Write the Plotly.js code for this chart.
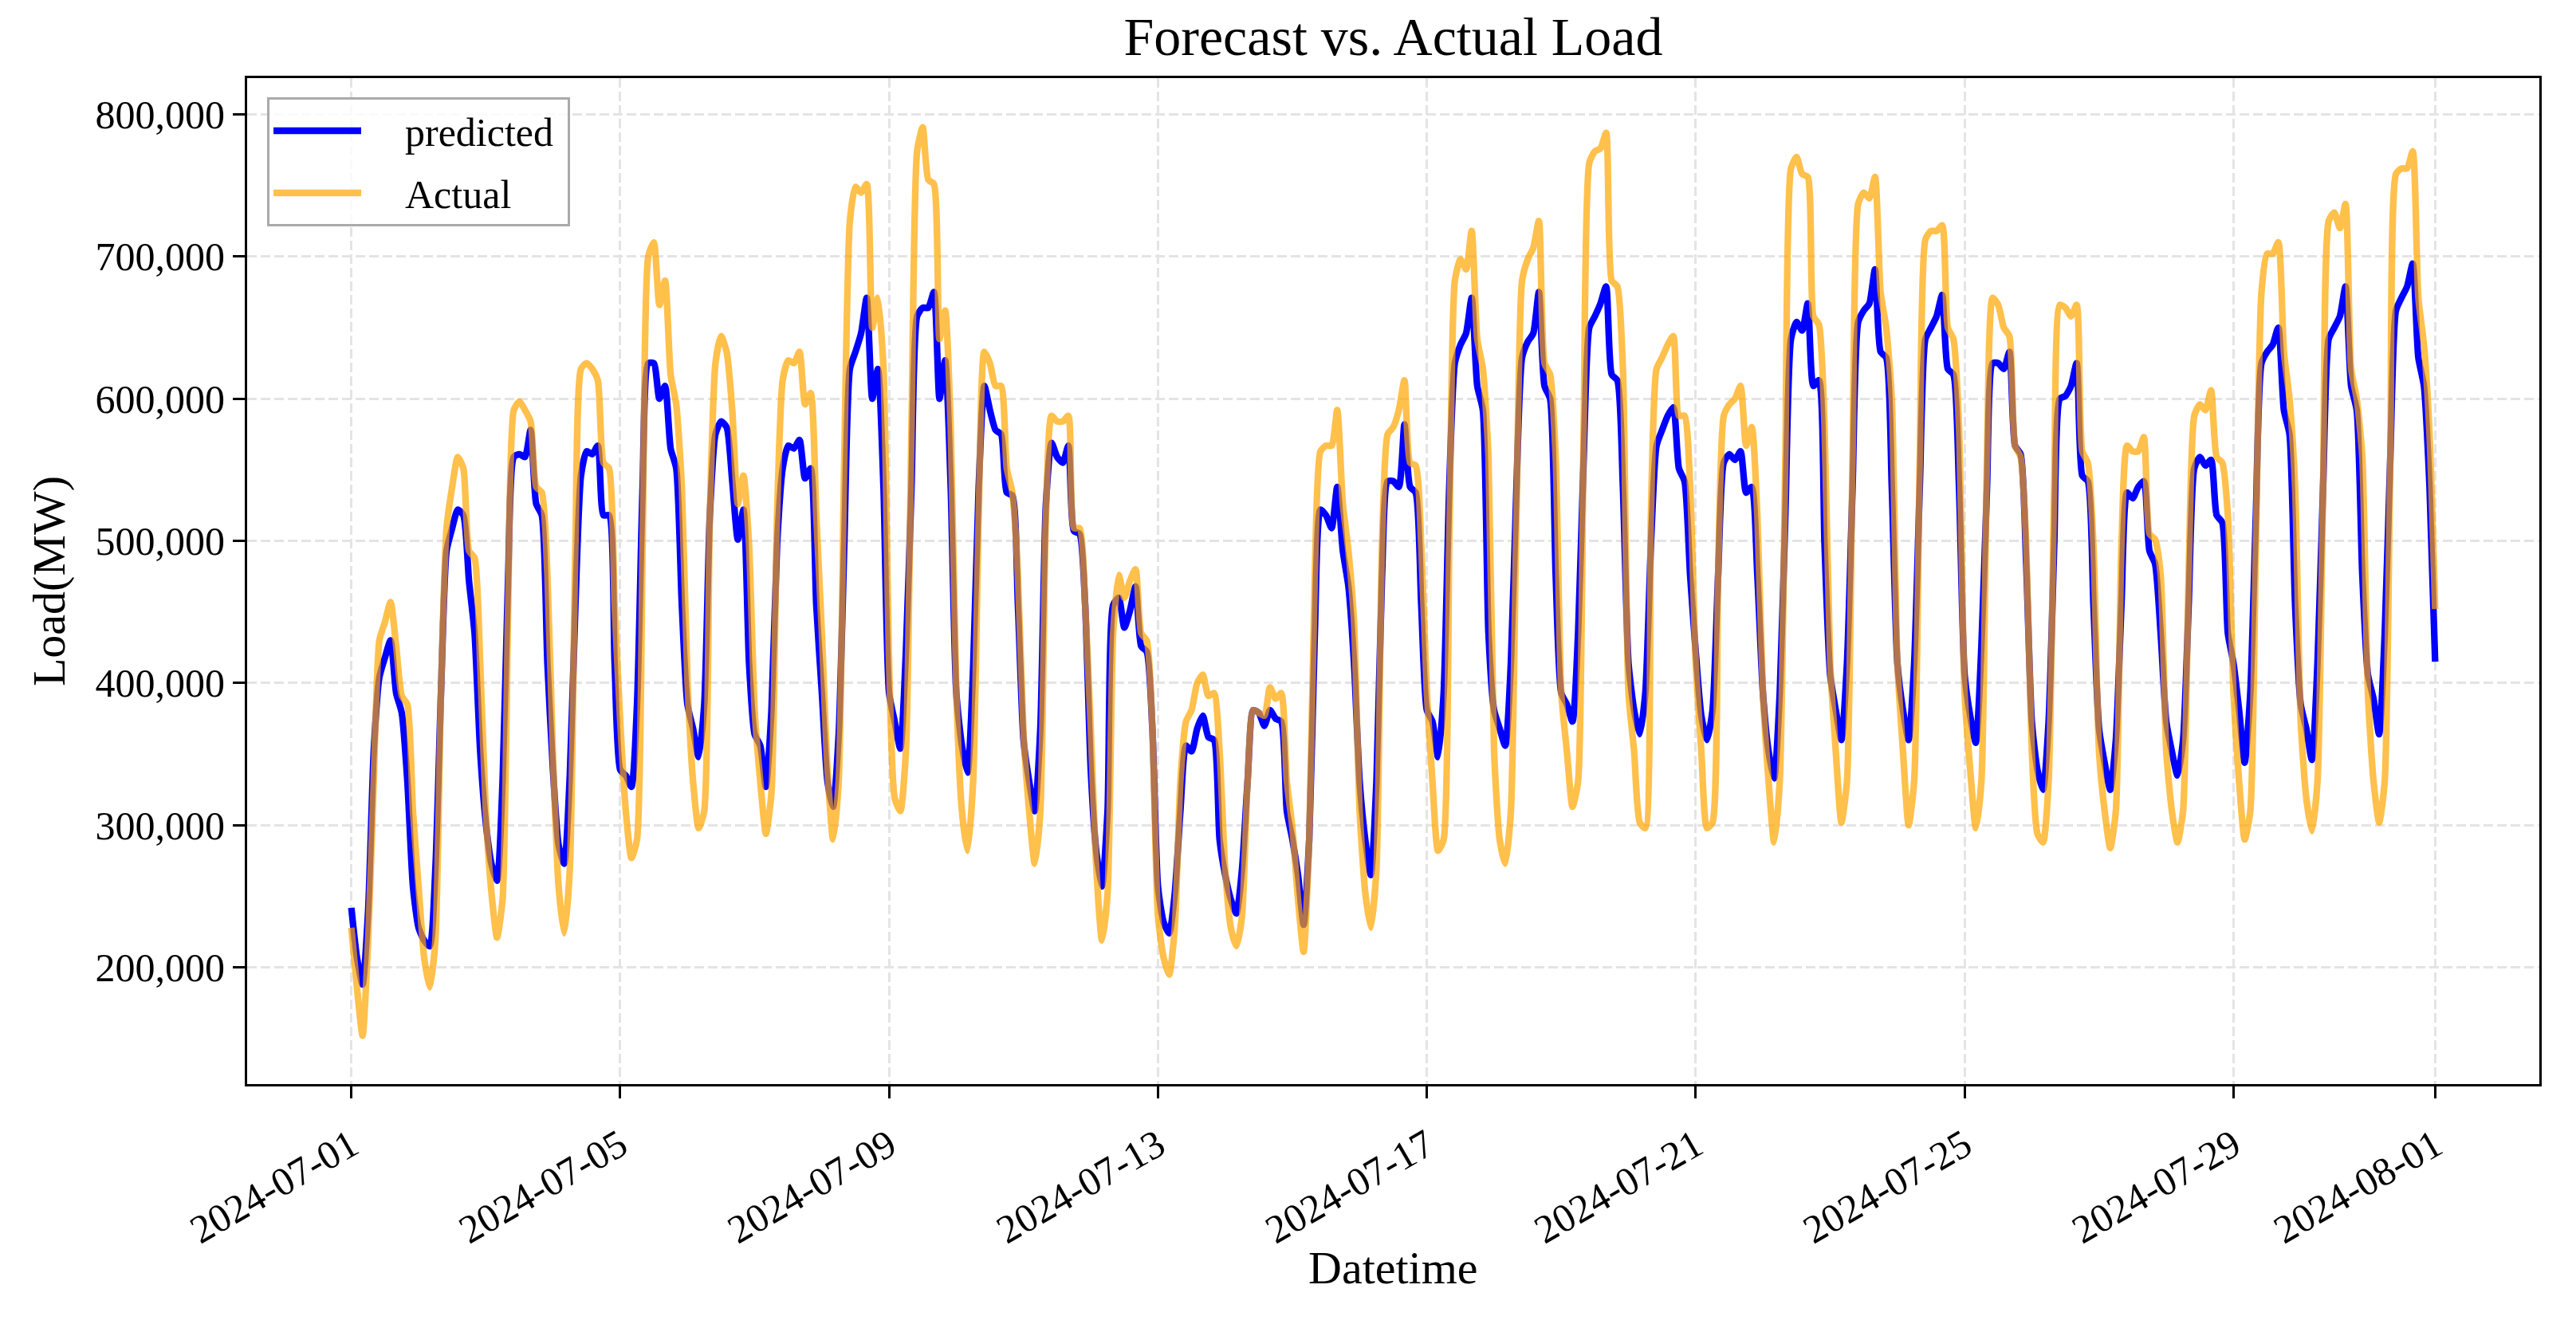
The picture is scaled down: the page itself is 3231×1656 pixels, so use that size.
<!DOCTYPE html>
<html>
<head>
<meta charset="utf-8">
<script src="https://cdn.plot.ly/plotly-3.0.1.min.js"></script>
<style>html,body{margin:0;padding:0;background:#fff;}#chart{width:3231px;height:1656px;}</style>
</head>
<body>
<div id="chart"></div>
<script>
// Sampling hours within each day (values read every 2 hours), July 2024
const sampleHours = [0, 2, 4, 6, 8, 10, 12, 14, 16, 18, 20, 22];
const endTime = '2024-08-01 00:00';

// Predicted load, thousand MW, one row per day (07-01 ... 07-31), then 08-01 00:00
const predicted = [
  242, 207, 188, 240, 352, 404, 418, 430, 393, 379, 331, 257,
  228, 219, 215, 269, 393, 493, 509, 522, 518, 472, 435, 352,
  302, 273, 261, 331, 476, 559, 561, 559, 578, 526, 518, 414,
  339, 286, 273, 335, 455, 546, 563, 561, 567, 518, 518, 414,
  339, 335, 327, 385, 538, 625, 625, 600, 609, 565, 551, 455,
  385, 368, 348, 385, 518, 575, 584, 580, 542, 501, 522, 414,
  364, 356, 327, 381, 497, 551, 567, 565, 571, 544, 551, 455,
  393, 331, 313, 364, 497, 621, 633, 646, 671, 600, 621, 538,
  393, 373, 354, 422, 538, 658, 664, 664, 675, 600, 627, 538,
  393, 356, 337, 410, 538, 609, 592, 578, 575, 534, 532, 455,
  360, 331, 310, 368, 526, 569, 559, 555, 567, 507, 505, 455,
  339, 281, 257, 310, 455, 460, 439, 451, 468, 426, 422, 368,
  257, 232, 224, 252, 310, 356, 352, 368, 377, 362, 360, 290,
  265, 248, 238, 269, 331, 381, 379, 370, 381, 375, 373, 310,
  290, 265, 230, 290, 435, 522, 518, 509, 538, 493, 468, 414,
  331, 290, 265, 331, 476, 542, 542, 538, 582, 538, 534, 455,
  381, 373, 348, 393, 538, 625, 638, 646, 671, 609, 592, 435,
  381, 368, 356, 414, 538, 629, 640, 646, 675, 609, 600, 476,
  393, 385, 373, 435, 559, 650, 658, 667, 679, 617, 613, 538,
  414, 381, 364, 393, 497, 567, 578, 588, 594, 551, 542, 476,
  422, 377, 360, 381, 476, 555, 561, 557, 563, 534, 538, 476,
  393, 352, 333, 393, 518, 642, 654, 648, 667, 609, 613, 497,
  406, 381, 360, 414, 538, 654, 662, 667, 691, 633, 629, 538,
  414, 381, 360, 414, 538, 642, 650, 658, 673, 621, 617, 538,
  406, 377, 358, 426, 538, 625, 625, 621, 633, 567, 561, 484,
  373, 339, 325, 373, 497, 600, 602, 609, 625, 546, 542, 455,
  368, 344, 325, 360, 455, 534, 530, 538, 542, 493, 484, 435,
  373, 352, 335, 360, 455, 551, 559, 553, 557, 518, 513, 435,
  414, 381, 344, 393, 518, 625, 633, 638, 650, 592, 575, 455,
  385, 368, 346, 414, 538, 642, 650, 658, 679, 609, 592, 476,
  406, 389, 364, 435, 559, 662, 671, 679, 695, 629, 609, 538,
  415
];

// Actual load, thousand MW, same timestamps
const actual = [
  228, 186, 152, 219, 331, 430, 443, 457, 426, 391, 385, 310,
  257, 207, 186, 219, 393, 509, 538, 559, 551, 493, 488, 414,
  310, 253, 221, 248, 455, 592, 598, 592, 584, 538, 534, 476,
  348, 257, 224, 269, 497, 621, 625, 621, 613, 555, 551, 455,
  373, 310, 277, 290, 497, 700, 710, 666, 683, 617, 596, 538,
  402, 331, 298, 310, 518, 625, 644, 633, 592, 526, 546, 497,
  381, 331, 294, 323, 518, 613, 627, 625, 633, 596, 604, 518,
  435, 339, 290, 331, 559, 725, 749, 745, 751, 650, 671, 621,
  414, 319, 310, 352, 580, 774, 791, 754, 751, 642, 662, 580,
  393, 310, 282, 331, 518, 633, 625, 609, 609, 551, 534, 476,
  364, 310, 273, 310, 518, 588, 584, 584, 588, 509, 509, 455,
  368, 269, 219, 252, 435, 476, 460, 472, 480, 435, 430, 368,
  236, 207, 195, 228, 331, 373, 381, 400, 406, 391, 393, 352,
  269, 228, 215, 236, 331, 381, 379, 377, 397, 389, 393, 331,
  298, 248, 211, 290, 476, 563, 567, 567, 592, 526, 493, 443,
  310, 253, 228, 269, 497, 575, 580, 592, 613, 555, 553, 497,
  393, 331, 282, 290, 497, 683, 698, 691, 718, 642, 621, 559,
  352, 290, 273, 310, 518, 683, 698, 706, 725, 625, 617, 559,
  393, 352, 313, 331, 580, 766, 774, 776, 787, 683, 679, 621,
  393, 352, 302, 298, 518, 621, 629, 638, 644, 588, 588, 538,
  414, 352, 298, 302, 476, 588, 596, 600, 609, 567, 580, 518,
  393, 331, 288, 331, 559, 762, 770, 758, 756, 658, 652, 580,
  414, 352, 302, 331, 559, 737, 745, 741, 756, 675, 650, 600,
  414, 352, 300, 331, 559, 712, 718, 718, 722, 650, 642, 580,
  393, 339, 298, 331, 559, 671, 666, 650, 644, 567, 559, 497,
  352, 294, 288, 331, 538, 666, 664, 658, 666, 563, 555, 497,
  352, 310, 284, 310, 497, 567, 563, 563, 573, 505, 501, 476,
  352, 310, 288, 310, 476, 588, 596, 592, 606, 559, 555, 518,
  393, 331, 290, 310, 497, 675, 702, 702, 710, 633, 600, 538,
  373, 319, 296, 331, 538, 725, 731, 720, 737, 621, 600, 559,
  393, 331, 302, 331, 559, 758, 762, 762, 774, 671, 638, 575,
  452
];

// X tick labels
const tickDates = ['2024-07-01', '2024-07-05', '2024-07-09', '2024-07-13', '2024-07-17',
                   '2024-07-21', '2024-07-25', '2024-07-29', '2024-08-01'];

// Series names
const seriesNames = ['predicted', 'Actual'];

// timestamps
const times = [];
for (let d = 1; d <= 31; d++) {
  for (const h of sampleHours) {
    times.push('2024-07-' + String(d).padStart(2, '0') + ' ' + String(h).padStart(2, '0') + ':00');
  }
}
times.push(endTime);

const toMW = a => a.map(v => v * 1000);
const lead = '\u00a0\u00a0\u00a0\u00a0';
const trail = '\u00a0';

const traces = [
  {
    x: times, y: toMW(predicted), type: 'scatter', mode: 'lines', name: lead + seriesNames[0] + trail,
    legendgroup: 'g1',
    line: {color: '#0000ff', width: 8.3, shape: 'spline', smoothing: 0.6}
  },
  {
    x: times, y: toMW(actual), type: 'scatter', mode: 'lines', name: lead + seriesNames[1] + trail,
    legendgroup: 'g2',
    line: {color: 'rgba(255,165,0,0.7)', width: 8.3, shape: 'spline', smoothing: 0.6}
  }
];

const FONT = 'Liberation Serif, Times New Roman, serif';
const axisCommon = {
  showline: true, linecolor: 'black', linewidth: 3, mirror: true,
  ticks: 'outside', ticklen: 15, tickwidth: 3, tickcolor: 'black',
  showgrid: true, gridcolor: '#e4e4e4', gridwidth: 3, griddash: '12px,5px',
  zeroline: false, tickfont: {family: FONT, size: 50, color: 'black'}
};

const layout = {
  width: 3231, height: 1656,
  margin: {l: 310, r: 46, t: 98, b: 296, pad: 0},
  paper_bgcolor: 'white', plot_bgcolor: 'white',
  font: {family: FONT, size: 50, color: 'black'},
  showlegend: true,
  title: {text: 'Forecast vs. Actual Load', font: {family: FONT, size: 68, color: 'black'},
          x: 0.5, xref: 'paper', xanchor: 'center', y: 1 - 45 / 1656, yref: 'container', yanchor: 'middle'},
  xaxis: Object.assign({}, axisCommon, {
    type: 'date',
    range: ['2024-06-29 10:48', '2024-08-02 13:12'],
    tickmode: 'array', tickvals: tickDates, ticktext: tickDates,
    tickangle: -30, ticklabelstandoff: 10
  }),
  yaxis: Object.assign({}, axisCommon, {
    range: [118000, 825500],
    tickmode: 'linear', tick0: 0, dtick: 100000,
    tickformat: ',d',
    title: {text: 'Load(MW)', font: {family: FONT, size: 58, color: 'black'}, standoff: 20}
  }),
  annotations: [{
    text: 'Datetime', xref: 'paper', yref: 'paper', x: 0.5, y: (1360 - 1590) / 1262,
    xanchor: 'center', yanchor: 'middle', showarrow: false,
    font: {family: FONT, size: 58, color: 'black'}
  }],
  legend: {
    x: 0.0087, y: 0.981, xanchor: 'left', yanchor: 'top',
    bgcolor: 'rgba(255,255,255,0.8)', bordercolor: '#aaaaaa', borderwidth: 3,
    font: {family: FONT, size: 50, color: 'black'},
    itemwidth: 110, traceorder: 'grouped', tracegroupgap: 10
  }
};

Plotly.newPlot('chart', traces, layout, {displayModeBar: false, responsive: false});
</script>
</body>
</html>
